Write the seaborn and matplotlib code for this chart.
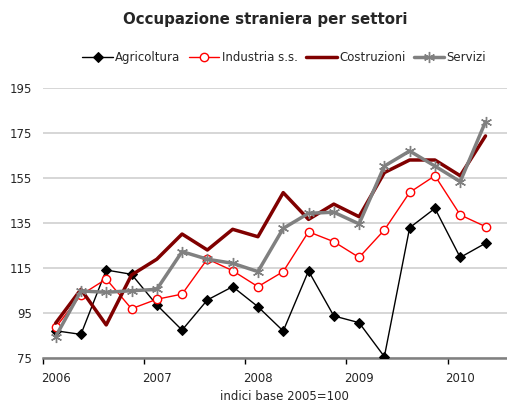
import matplotlib
matplotlib.use("Agg")
import matplotlib.pyplot as plt
import seaborn as sns
import pandas as pd
import numpy as np

# Quarterly indices, 2006 Q1 .. 2010 Q2 (base 2005 = 100)
quarters = ["2006Q1", "2006Q2", "2006Q3", "2006Q4",
            "2007Q1", "2007Q2", "2007Q3", "2007Q4",
            "2008Q1", "2008Q2", "2008Q3", "2008Q4",
            "2009Q1", "2009Q2", "2009Q3", "2009Q4",
            "2010Q1", "2010Q2"]
agricoltura = [87.1, 85.5, 114.1, 112.2, 98.6, 87.4, 100.8, 106.7, 97.8,
               87.0, 113.7, 93.7, 90.7, 75.6, 132.9, 141.5, 119.7, 126.0]
industria = [88.6, 103.0, 110.1, 96.9, 101.1, 103.4, 119.0, 113.8, 106.7,
             113.4, 131.1, 126.7, 119.7, 131.9, 148.6, 156.0, 138.6, 133.4]
costruzioni = [90.5, 105.5, 89.7, 111.9, 118.9, 130.1, 123.0, 132.2, 128.9,
               148.5, 136.6, 143.4, 137.8, 157.4, 163.0, 163.0, 156.0, 173.7]
servizi = [84.5, 104.8, 104.2, 104.9, 105.5, 122.3, 118.9, 117.1, 113.4,
           132.6, 139.3, 139.8, 134.6, 160.3, 167.0, 160.3, 153.4, 180.0]

years = ["2006", "2007", "2008", "2009", "2010"]
yticks = [75, 95, 115, 135, 155, 175, 195]

x = np.arange(len(quarters))
df = pd.DataFrame({"t": x, "Agricoltura": agricoltura,
                   "Industria s.s.": industria,
                   "Costruzioni": costruzioni, "Servizi": servizi})

sns.set_style("white")
plt.rcParams["font.family"] = ["DejaVu Sans"]

fig = plt.figure(figsize=(5.07, 4.05), dpi=100)
ax = fig.add_axes([43 / 507, 47 / 405, 1 - 43 / 507, 270 / 405])

sns.lineplot(data=df, x="t", y="Agricoltura", ax=ax, color="black",
             lw=1.0, marker="D", markersize=5, markeredgecolor="black",
             label="Agricoltura", zorder=3)
sns.lineplot(data=df, x="t", y="Industria s.s.", ax=ax, color="#ff0000",
             lw=1.0, marker="o", markersize=6, markerfacecolor="white",
             markeredgecolor="#ff0000", markeredgewidth=1.0,
             label="Industria s.s.", zorder=4)
sns.lineplot(data=df, x="t", y="Costruzioni", ax=ax, color="#800000",
             lw=2.5, label="Costruzioni", zorder=5)
sns.lineplot(data=df, x="t", y="Servizi", ax=ax, color="#808080",
             lw=2.5, marker=(6, 2, 0), markersize=8,
             markeredgecolor="#808080", markeredgewidth=1.0,
             label="Servizi", zorder=6)

ax.set_ylim(75, 195)
ax.set_xlim(-0.5, 17.85)
ax.set_yticks(yticks)
ax.set_yticklabels([str(v) for v in yticks], fontsize=8.5)
ax.yaxis.grid(True, color="#d0d0d0", lw=1.2)
ax.set_axisbelow(True)

# year labels under the first quarter, tick marks at year boundaries
ax.set_xticks(np.arange(0, 17, 4))
ax.set_xticklabels(years, fontsize=8.5)
ax.set_xticks(np.arange(-0.5, 17, 4), minor=True)
ax.tick_params(axis="x", which="major", length=0, pad=10)
ax.tick_params(axis="x", which="minor", bottom=True, length=4, width=1,
               color="black", direction="out")
ax.tick_params(axis="y", length=0, pad=8)

for s in ["top", "right", "left"]:
    ax.spines[s].set_visible(False)
ax.spines["bottom"].set_color("#808080")
ax.spines["bottom"].set_linewidth(1.8)

ax.set_xlabel("indici base 2005=100", fontsize=8.5)
ax.xaxis.set_label_coords(0.52, -0.12)
ax.set_ylabel("")

ax.legend(loc="lower center", bbox_to_anchor=(0.52, 1.07), ncol=4,
          frameon=False, fontsize=8.5, handlelength=2.6, handletextpad=0.2,
          columnspacing=0.7, borderaxespad=0)

fig.text(0.523, 0.951, "Occupazione straniera per settori", ha="center",
         va="center", fontsize=10.8, fontweight="bold")

fig.savefig("out.png", dpi=100)
